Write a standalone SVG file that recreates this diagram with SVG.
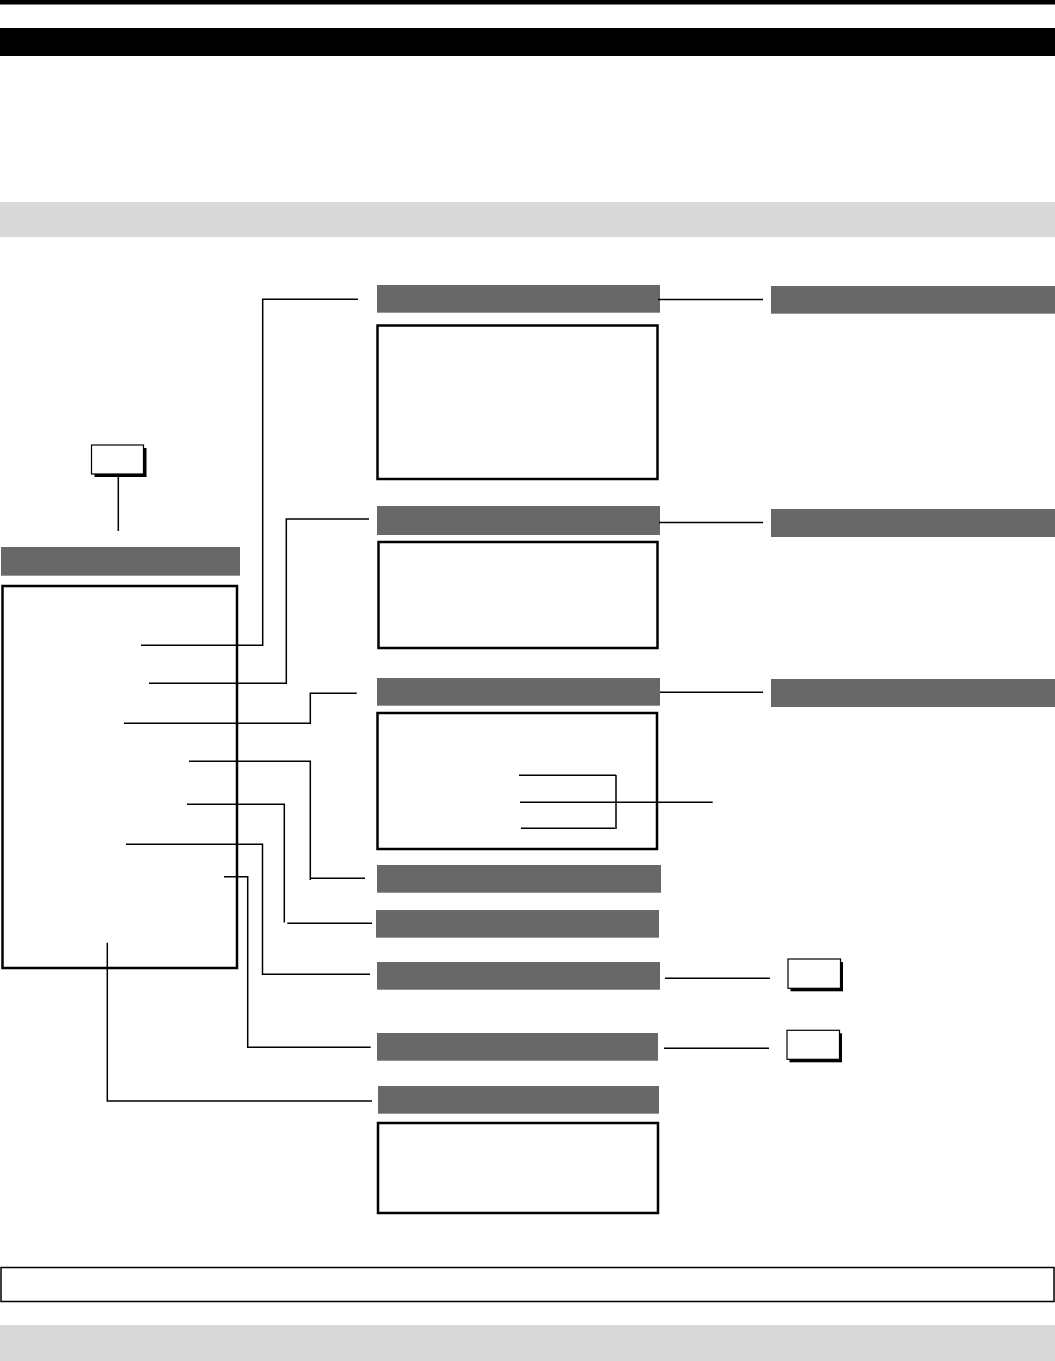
<svg xmlns="http://www.w3.org/2000/svg" width="1055" height="1361" viewBox="0 0 1055 1361">
<style>
.bar{fill:#686868}
.box{fill:#fff;stroke:#000;stroke-width:2.5}
.sm{fill:#fff;stroke:#000;stroke-width:1.2}
.sh{fill:#000}
.band{fill:#d9d9d9}
.c{fill:none;stroke:#000;stroke-width:1.5}
</style>
<rect width="1055" height="1361" fill="#fff"/>
<g id="header">
<rect x="0" y="0" width="1055" height="4.5" fill="#000"/>
<rect x="0" y="28" width="1055" height="28" fill="#000"/>
<rect class="band" x="0" y="202" width="1055" height="35"/>
</g>
<g id="node-small-top">
<rect class="sh" x="94.5" y="448" width="52" height="29"/>
<rect class="sm" x="91.5" y="445" width="52" height="29"/>
</g>
<g id="node-left">
<rect class="bar" x="1" y="547" width="239" height="28.7"/>
<rect class="box" x="2.5" y="586" width="234.5" height="382"/>
</g>
<g id="node-1">
<rect class="bar" x="377" y="285" width="283" height="27.7"/>
<rect class="box" x="377.5" y="325.5" width="280" height="153.5"/>
</g>
<g id="node-1r"><rect class="bar" x="771" y="286" width="284" height="27.7"/></g>
<g id="node-2">
<rect class="bar" x="377" y="506" width="283" height="29"/>
<rect class="box" x="378.5" y="542" width="279" height="106"/>
</g>
<g id="node-2r"><rect class="bar" x="771" y="509" width="284" height="28"/></g>
<g id="node-3">
<rect class="bar" x="377" y="678" width="283" height="27.7"/>
<rect class="box" x="377.5" y="713" width="279.5" height="136"/>
</g>
<g id="node-3r"><rect class="bar" x="771" y="679" width="284" height="28"/></g>
<g id="node-4"><rect class="bar" x="377" y="865" width="284" height="27.7"/></g>
<g id="node-5"><rect class="bar" x="376" y="910" width="283" height="27.7"/></g>
<g id="node-6"><rect class="bar" x="377" y="962" width="283" height="27.7"/></g>
<g id="node-6s">
<rect class="sh" x="790.5" y="962" width="52.5" height="29.3"/>
<rect class="sm" x="788" y="959" width="52.5" height="29.3"/>
</g>
<g id="node-7"><rect class="bar" x="377" y="1033" width="281" height="27.7"/></g>
<g id="node-7s">
<rect class="sh" x="789.5" y="1033.3" width="52.5" height="29"/>
<rect class="sm" x="787" y="1030.3" width="52.5" height="29"/>
</g>
<g id="node-8">
<rect class="bar" x="378" y="1086" width="281" height="27.7"/>
<rect class="box" x="378" y="1123" width="280" height="90"/>
</g>
<g id="footer">
<rect x="1" y="1267.5" width="1053" height="34" fill="#fff" stroke="#000" stroke-width="1.5"/>
<rect class="band" x="0" y="1325" width="1055" height="36"/>
</g>
<g id="connectors">
<path class="c" d="M658 299.5H763"/>
<path class="c" d="M659 522.5H763"/>
<path class="c" d="M660 692.3H763"/>
<path class="c" d="M665 978.3H770"/>
<path class="c" d="M664 1048.3H769"/>
<path class="c" d="M118.3 474V531"/>
<path class="c" d="M141 645.3H262.7V299.3H358"/>
<path class="c" d="M149 683.3H286.3V519H369"/>
<path class="c" d="M124 723.3H310.3V693.3H356.7"/>
<path class="c" d="M189 761.3H310.3V880M310.3 878.3H365"/>
<path class="c" d="M187 804.3H284.3V922.5M287.3 923.3H372"/>
<path class="c" d="M126 844.3H262.5V974.3H370"/>
<path class="c" d="M224 876.7H247.7V1047.3H370.7"/>
<path class="c" d="M107.3 942.7V1101H372"/>
<path class="c" d="M519 775.3H616M520 802.3H712.7M521 828.3H615M616 775V829"/>
</g>
</svg>
